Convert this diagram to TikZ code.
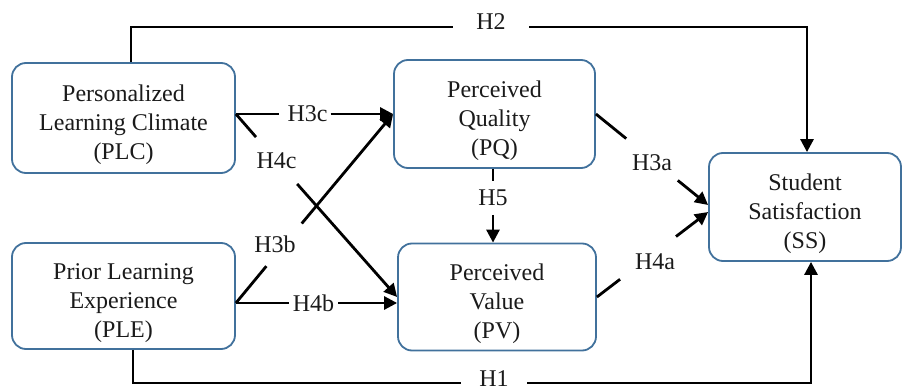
\documentclass[tikz,border=0pt]{standalone}
\usepackage{fontspec}
\setmainfont{Liberation Serif}
\usetikzlibrary{arrows.meta}
\definecolor{boxblue}{HTML}{41719C}
\definecolor{inkc}{HTML}{1A1A1A}
\newcommand\toplift{\rule{0pt}{30pt}}
\begin{document}
\begin{tikzpicture}[x=1pt,y=-1pt,
  every node/.style={font=\fontsize{24}{29}\selectfont, text=inkc},
  cbox/.style={draw=boxblue, line width=1.8pt, rounded corners=14pt, align=center, inner sep=0pt},
  conn/.style={line width=2.8pt, draw=black},
  arr/.style={conn, -{Triangle[length=13pt,width=13pt]}},
  hlab/.style={circle, inner sep=0pt, text height=16pt, text depth=0pt},
  hbar/.style={rectangle, inner sep=0pt, text height=16pt}
]
\useasboundingbox (0,0) rectangle (904,387);

% boxes
\node[cbox, minimum width=223pt, minimum height=110pt] (PLC) at (123.5,118) {\toplift Personalized\\Learning Climate\\(PLC)};
\node[cbox, minimum width=223pt, minimum height=106pt] (PLE) at (123.5,296) {\toplift Prior Learning\\Experience\\(PLE)};
\node[cbox, minimum width=201pt, minimum height=108pt] (PQ) at (494.5,114) {\toplift Perceived\\Quality\\(PQ)};
\node[cbox, minimum width=198pt, minimum height=107pt] (PV) at (497,297) {\toplift Perceived\\Value\\(PV)};
\node[cbox, minimum width=192pt, minimum height=108pt] (SS) at (805,207) {\toplift Student\\Satisfaction\\(SS)};

% labels
\node[hbar, minimum width=76pt, text depth=11pt] (H2) at (491,27) {H2};
\node[hbar, minimum width=66pt, text depth=9pt] (H1) at (494,383) {H1};
\node[hlab, minimum size=51pt] (H3c) at (305,114) {\kern5pt H3c};
\node[hlab, minimum size=62pt] (H4c) at (276.5,160.6) {H4c};
\node[hlab, minimum size=55pt] (H3b) at (284,244.8) {\kern-18pt H3b};
\node[hlab, minimum size=49pt] (H4b) at (313.5,303) {H4b};
\node[hlab, minimum size=30pt] (H5) at (493,198) {H5};
\node[hlab, minimum size=66pt, text height=23pt] (H3a) at (652,159.5) {H3a};
\node[hlab, minimum size=70pt, text height=23pt] (H4a) at (648,257.9) {\kern14pt H4a};

% connectors
\draw[conn] ([xshift=7.5pt]PLC.north) |- (H2);
\draw[arr] (H2) -| ([xshift=2pt]SS.north);
\draw[conn] ([xshift=9.5pt]PLE.south) |- (H1);
\draw[arr] (H1) -| ([xshift=6pt]SS.south);
\draw[arr] ([yshift=4pt]PLC.east) -- (H3c) -- (PQ.west);
\draw[arr] ([yshift=4pt]PLC.east) -- (H4c) -- (PV.west);
\draw[arr] ([yshift=-7pt]PLE.east) -- (H3b) -- (PQ.west);
\draw[arr] ([yshift=-7pt]PLE.east) -- (H4b) -- ([yshift=-6pt]PV.west);
\draw[arr] ([xshift=-1.5pt]PQ.south) -- (H5) -- ([xshift=-4pt]PV.north);
\draw[arr] (PQ.east) -- (H3a) -- ([yshift=2pt]SS.west);
\draw[arr] (PV.east) -- (H4a) -- ([yshift=-5pt]SS.west);
\end{tikzpicture}
\end{document}
